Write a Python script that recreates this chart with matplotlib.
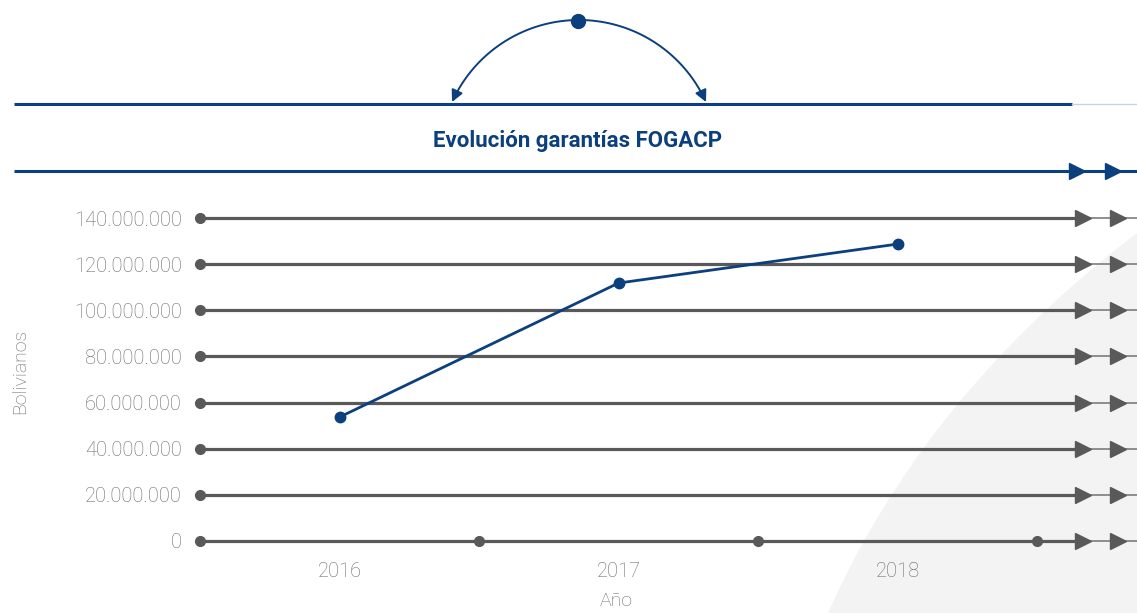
import numpy as np
import matplotlib
matplotlib.use("Agg")
import matplotlib.pyplot as plt
from matplotlib.patches import Polygon, FancyArrowPatch
from matplotlib.path import Path
from matplotlib.ticker import FuncFormatter

# ---- data ----
years = ["2016", "2017", "2018"]
garantias = [53.7e6, 111.8e6, 128.7e6]
yticks = [0, 20e6, 40e6, 60e6, 80e6, 100e6, 120e6, 140e6]
title = "Evolución garantías FOGACP"
xlabel = "Año"
ylabel = "Bolivianos"

W, H = 1137, 613
NAVY = "#0b3f7d"
GRAY = "#595959"
TXT = "#6a6a6a"
FONT = "Roboto"

fig = plt.figure(figsize=(W / 100, H / 100), dpi=100)

# overlay axes in pixel coordinates for decorations
deco = fig.add_axes([0, 0, 1, 1], zorder=0)
deco.set_xlim(0, W)
deco.set_ylim(H, 0)
deco.axis("off")

# light gray curved background shape
t = np.linspace(0, 1, 60)
p0 = np.array([828, 613]); p1 = np.array([925, 395]); p2 = np.array([1137, 233])
curve = ((1 - t)[:, None] ** 2) * p0 + (2 * (1 - t) * t)[:, None] * p1 + (t[:, None] ** 2) * p2
poly = np.vstack([curve, [[1137, 613]]])
deco.add_patch(Polygon(poly, closed=True, facecolor="#f3f3f3", edgecolor="none", zorder=0))

# top navy lines
deco.plot([14, 1072], [104, 104], color=NAVY, lw=2.2, solid_capstyle="butt", zorder=2)
deco.plot([1072, 1137], [104, 104], color="#c9d3e0", lw=1.0, zorder=2)
deco.plot([14, 1137], [171, 171], color=NAVY, lw=2.2, solid_capstyle="butt", zorder=2)
deco.plot([1077, 1113], [171, 171], linestyle="none", marker=">", markersize=11,
          color=NAVY, zorder=3)

# arc with arrows
cx, cy, r = 579.0, 159.3, 139.3
a0 = np.arctan2(-(102 - cy), 452 - cx)
a1 = np.arctan2(-(102 - cy), 706 - cx)
ang = np.linspace(a0, a1, 80)
verts = np.column_stack([cx + r * np.cos(ang), cy - r * np.sin(ang)])
arc = FancyArrowPatch(path=Path(verts), arrowstyle="<|-|>,head_length=7,head_width=3.5",
                      color=NAVY, lw=1.4, zorder=3)
deco.add_patch(arc)
deco.plot([578], [21], marker="o", markersize=10, color=NAVY, zorder=4)

deco.text(578, 141, title, ha="center", va="center", fontsize=16, fontweight="semibold",
          color=NAVY, family=FONT, zorder=4)
deco.text(20, 371, ylabel, ha="center", va="center", rotation=90, fontsize=14,
          fontweight="light", color=TXT, family=FONT)
deco.text(616, 601, xlabel, ha="center", va="center", fontsize=14,
          fontweight="light", color=TXT, family=FONT)

# ---- main chart axes ----
x0, x1 = 200, 1137
ytop, ybot = 218, 541
ax = fig.add_axes([x0 / W, (H - ybot) / H, (x1 - x0) / W, (ybot - ytop) / H], zorder=1)
ax.patch.set_alpha(0)
cat_px = 279.0
xmin = -0.5
xmax = xmin + (x1 - x0) / cat_px
ax.set_xlim(xmin, xmax)
ax.set_ylim(0, 140e6)
for s in ax.spines.values():
    s.set_visible(False)

arrow1 = xmin + (1083 - x0) / cat_px
arrow2 = xmin + (1118 - x0) / cat_px
for yv in yticks:
    ax.plot([xmin, arrow1], [yv, yv], color=GRAY, lw=2.3, solid_capstyle="butt",
            clip_on=False, zorder=2)
    ax.plot([arrow1, xmax], [yv, yv], color="#7d7d7d", lw=1.2, clip_on=False, zorder=2)
    ax.plot([xmin], [yv], marker="o", markersize=7, color=GRAY, clip_on=False, zorder=3)
    ax.plot([arrow1, arrow2], [yv, yv], linestyle="none", marker=">", markersize=11,
            color=GRAY, clip_on=False, zorder=3)
# category boundary dots on baseline
ax.plot([0.5, 1.5, 2.5], [0, 0, 0], linestyle="none", marker="o", markersize=7,
        color=GRAY, clip_on=False, zorder=3)

xs = np.arange(len(years))
ax.plot(xs, garantias, color=NAVY, lw=2.0, marker="o", markersize=7.5, zorder=4,
        clip_on=False)

ax.set_yticks(yticks)
ax.yaxis.set_major_formatter(FuncFormatter(lambda v, p: f"{int(v):,}".replace(",", ".")))
ax.set_xticks(xs)
ax.set_xticklabels(years)
ax.tick_params(axis="both", length=0, colors=TXT, labelsize=14.5)
ax.tick_params(axis="y", pad=13)
ax.tick_params(axis="x", pad=15)
for lab in ax.get_xticklabels() + ax.get_yticklabels():
    lab.set_family(FONT)
    lab.set_fontweight("light")
    lab.set_color(TXT)

fig.savefig("out.png", dpi=100)
